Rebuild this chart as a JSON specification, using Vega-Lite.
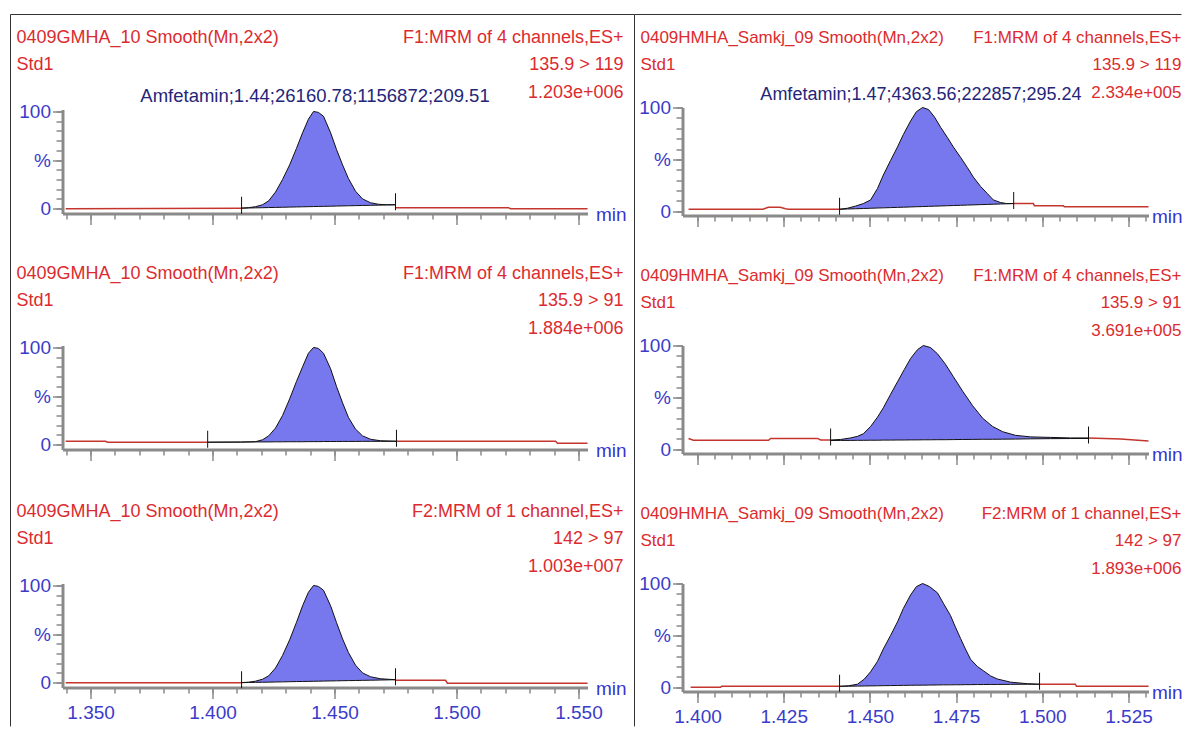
{
"$schema": "https://vega.github.io/schema/vega-lite/v6.json",
"background": "white",
"padding": {"left": 9.5, "top": 13.5, "right": 0, "bottom": 0},
"autosize": {"type": "pad"},
"bounds": "flush",
"center": true,
"columns": 2,
"spacing": {"row": 130, "column": 95},
"datasets": {
"tr": [
{"p":"L1","s":"a","t":1.3398,"y":0},{"p":"L1","s":"a","t":1.4119,"y":0.5},
{"p":"L1","s":"k","t":1.4119,"y":0.5,"b":0.5},{"p":"L1","s":"k","t":1.4148,"y":1,"b":0.66},{"p":"L1","s":"k","t":1.4176,"y":2,"b":0.82},{"p":"L1","s":"k","t":1.4205,"y":4,"b":0.98},{"p":"L1","s":"k","t":1.423,"y":8,"b":1.12},{"p":"L1","s":"k","t":1.4258,"y":17,"b":1.27},{"p":"L1","s":"k","t":1.4287,"y":30,"b":1.43},{"p":"L1","s":"k","t":1.4316,"y":45,"b":1.59},{"p":"L1","s":"k","t":1.4344,"y":62,"b":1.75},{"p":"L1","s":"k","t":1.4369,"y":78,"b":1.89},{"p":"L1","s":"k","t":1.4393,"y":92,"b":2.02},{"p":"L1","s":"k","t":1.4414,"y":100,"b":2.14},{"p":"L1","s":"k","t":1.4434,"y":99,"b":2.25},{"p":"L1","s":"k","t":1.4455,"y":95,"b":2.36},{"p":"L1","s":"k","t":1.4484,"y":78,"b":2.52},{"p":"L1","s":"k","t":1.4508,"y":61,"b":2.66},{"p":"L1","s":"k","t":1.4533,"y":45,"b":2.8},{"p":"L1","s":"k","t":1.4557,"y":31,"b":2.93},{"p":"L1","s":"k","t":1.4586,"y":18,"b":3.09},{"p":"L1","s":"k","t":1.4615,"y":10,"b":3.25},{"p":"L1","s":"k","t":1.4648,"y":6,"b":3.43},{"p":"L1","s":"k","t":1.468,"y":4.5,"b":3.61},{"p":"L1","s":"k","t":1.4713,"y":4,"b":3.79},{"p":"L1","s":"k","t":1.475,"y":4,"b":4},
{"p":"L1","s":"c","t":1.475,"y":1},{"p":"L1","s":"c","t":1.5213,"y":1},{"p":"L1","s":"c","t":1.5221,"y":0},{"p":"L1","s":"c","t":1.5537,"y":0},

{"p":"L2","s":"a","t":1.3398,"y":3.5},{"p":"L2","s":"a","t":1.3561,"y":3.5},{"p":"L2","s":"a","t":1.357,"y":2.5},{"p":"L2","s":"a","t":1.398,"y":2.5},
{"p":"L2","s":"k","t":1.398,"y":2.5,"b":2.5},{"p":"L2","s":"k","t":1.4115,"y":2.6,"b":2.7},{"p":"L2","s":"k","t":1.4176,"y":3,"b":2.8},{"p":"L2","s":"k","t":1.4205,"y":5,"b":2.8},{"p":"L2","s":"k","t":1.423,"y":9,"b":2.8},{"p":"L2","s":"k","t":1.4258,"y":17,"b":2.9},{"p":"L2","s":"k","t":1.4287,"y":30,"b":2.9},{"p":"L2","s":"k","t":1.4316,"y":47,"b":3},{"p":"L2","s":"k","t":1.4344,"y":65,"b":3},{"p":"L2","s":"k","t":1.4369,"y":80,"b":3},{"p":"L2","s":"k","t":1.4393,"y":94,"b":3.1},{"p":"L2","s":"k","t":1.4414,"y":100,"b":3.1},{"p":"L2","s":"k","t":1.4434,"y":99,"b":3.1},{"p":"L2","s":"k","t":1.4455,"y":94,"b":3.2},{"p":"L2","s":"k","t":1.4484,"y":78,"b":3.2},{"p":"L2","s":"k","t":1.4508,"y":60,"b":3.2},{"p":"L2","s":"k","t":1.4533,"y":43,"b":3.3},{"p":"L2","s":"k","t":1.4557,"y":28,"b":3.3},{"p":"L2","s":"k","t":1.4586,"y":16,"b":3.3},{"p":"L2","s":"k","t":1.4615,"y":9,"b":3.4},{"p":"L2","s":"k","t":1.4648,"y":5.5,"b":3.4},{"p":"L2","s":"k","t":1.4689,"y":4,"b":3.4},{"p":"L2","s":"k","t":1.4754,"y":3.5,"b":3.5},
{"p":"L2","s":"c","t":1.4754,"y":3.5},{"p":"L2","s":"c","t":1.5406,"y":3.5},{"p":"L2","s":"c","t":1.5414,"y":1.5},{"p":"L2","s":"c","t":1.5537,"y":1.5},

{"p":"L3","s":"a","t":1.3398,"y":0},{"p":"L3","s":"a","t":1.4119,"y":0},
{"p":"L3","s":"k","t":1.4119,"y":0,"b":0},{"p":"L3","s":"k","t":1.4148,"y":0.5,"b":0.15},{"p":"L3","s":"k","t":1.4176,"y":1.5,"b":0.3},{"p":"L3","s":"k","t":1.4205,"y":3.5,"b":0.4},{"p":"L3","s":"k","t":1.423,"y":7,"b":0.5},{"p":"L3","s":"k","t":1.4258,"y":15,"b":0.65},{"p":"L3","s":"k","t":1.4287,"y":28,"b":0.8},{"p":"L3","s":"k","t":1.4316,"y":44,"b":0.95},{"p":"L3","s":"k","t":1.4344,"y":62,"b":1.1},{"p":"L3","s":"k","t":1.4369,"y":79,"b":1.2},{"p":"L3","s":"k","t":1.4393,"y":93,"b":1.3},{"p":"L3","s":"k","t":1.4414,"y":100,"b":1.4},{"p":"L3","s":"k","t":1.4434,"y":99,"b":1.5},{"p":"L3","s":"k","t":1.4455,"y":95,"b":1.6},{"p":"L3","s":"k","t":1.4484,"y":79,"b":1.75},{"p":"L3","s":"k","t":1.4508,"y":62,"b":1.85},{"p":"L3","s":"k","t":1.4533,"y":45,"b":2},{"p":"L3","s":"k","t":1.4557,"y":31,"b":2.1},{"p":"L3","s":"k","t":1.4586,"y":18,"b":2.2},{"p":"L3","s":"k","t":1.4615,"y":10,"b":2.35},{"p":"L3","s":"k","t":1.4648,"y":6,"b":2.5},{"p":"L3","s":"k","t":1.4689,"y":4,"b":2.7},{"p":"L3","s":"k","t":1.475,"y":3,"b":3},
{"p":"L3","s":"c","t":1.475,"y":2.5},{"p":"L3","s":"c","t":1.4955,"y":2.5},{"p":"L3","s":"c","t":1.4963,"y":-0.5},{"p":"L3","s":"c","t":1.5537,"y":-0.5},

{"p":"R1","s":"a","t":1.3974,"y":2},{"p":"R1","s":"a","t":1.419,"y":2},{"p":"R1","s":"a","t":1.4205,"y":4},{"p":"R1","s":"a","t":1.424,"y":4},{"p":"R1","s":"a","t":1.4255,"y":2.5},{"p":"R1","s":"a","t":1.4265,"y":2},{"p":"R1","s":"a","t":1.4412,"y":2},
{"p":"R1","s":"k","t":1.4412,"y":2,"b":2},{"p":"R1","s":"k","t":1.4435,"y":3,"b":2.25},{"p":"R1","s":"k","t":1.4458,"y":5,"b":2.5},{"p":"R1","s":"k","t":1.4481,"y":7.5,"b":2.75},{"p":"R1","s":"k","t":1.4502,"y":11,"b":2.97},{"p":"R1","s":"k","t":1.4522,"y":22,"b":3.2},{"p":"R1","s":"k","t":1.4539,"y":35,"b":3.38},{"p":"R1","s":"k","t":1.456,"y":49,"b":3.6},{"p":"R1","s":"k","t":1.458,"y":62,"b":3.83},{"p":"R1","s":"k","t":1.4597,"y":74,"b":4},{"p":"R1","s":"k","t":1.4618,"y":87,"b":4.24},{"p":"R1","s":"k","t":1.4635,"y":96,"b":4.43},{"p":"R1","s":"k","t":1.4653,"y":100,"b":4.62},{"p":"R1","s":"k","t":1.467,"y":98,"b":4.81},{"p":"R1","s":"k","t":1.4687,"y":91,"b":5},{"p":"R1","s":"k","t":1.4705,"y":81,"b":5.19},{"p":"R1","s":"k","t":1.4725,"y":71,"b":5.4},{"p":"R1","s":"k","t":1.4742,"y":62,"b":5.6},{"p":"R1","s":"k","t":1.4763,"y":52,"b":5.83},{"p":"R1","s":"k","t":1.4783,"y":42,"b":6.05},{"p":"R1","s":"k","t":1.48,"y":33,"b":6.23},{"p":"R1","s":"k","t":1.4821,"y":24,"b":6.46},{"p":"R1","s":"k","t":1.4841,"y":17,"b":6.68},{"p":"R1","s":"k","t":1.4858,"y":11,"b":6.86},{"p":"R1","s":"k","t":1.4879,"y":8.5,"b":7.1},{"p":"R1","s":"k","t":1.4896,"y":7.5,"b":7.28},{"p":"R1","s":"k","t":1.4917,"y":7.5,"b":7.5},
{"p":"R1","s":"c","t":1.4917,"y":7.5},{"p":"R1","s":"c","t":1.4974,"y":7.5},{"p":"R1","s":"c","t":1.4977,"y":5.5},{"p":"R1","s":"c","t":1.5061,"y":5.5},{"p":"R1","s":"c","t":1.5064,"y":4.5},{"p":"R1","s":"c","t":1.5308,"y":4.5},

{"p":"R2","s":"a","t":1.3974,"y":10.5},{"p":"R2","s":"a","t":1.3988,"y":8.7},{"p":"R2","s":"a","t":1.4206,"y":8.7},{"p":"R2","s":"a","t":1.4212,"y":10.5},{"p":"R2","s":"a","t":1.4348,"y":10.5},{"p":"R2","s":"a","t":1.4357,"y":9},{"p":"R2","s":"a","t":1.4386,"y":9},
{"p":"R2","s":"k","t":1.4386,"y":9,"b":8.5},{"p":"R2","s":"k","t":1.4415,"y":9.5,"b":8.6},{"p":"R2","s":"k","t":1.4444,"y":11,"b":8.6},{"p":"R2","s":"k","t":1.4464,"y":12.5,"b":8.7},{"p":"R2","s":"k","t":1.4481,"y":15,"b":8.7},{"p":"R2","s":"k","t":1.4502,"y":22,"b":8.8},{"p":"R2","s":"k","t":1.4522,"y":31,"b":8.8},{"p":"R2","s":"k","t":1.4539,"y":40,"b":8.9},{"p":"R2","s":"k","t":1.456,"y":53,"b":8.9},{"p":"R2","s":"k","t":1.458,"y":65,"b":9},{"p":"R2","s":"k","t":1.46,"y":77,"b":9},{"p":"R2","s":"k","t":1.4618,"y":87.5,"b":9.1},{"p":"R2","s":"k","t":1.4638,"y":96,"b":9.1},{"p":"R2","s":"k","t":1.4655,"y":100,"b":9.2},{"p":"R2","s":"k","t":1.4676,"y":98,"b":9.2},{"p":"R2","s":"k","t":1.4696,"y":92,"b":9.3},{"p":"R2","s":"k","t":1.4719,"y":82,"b":9.3},{"p":"R2","s":"k","t":1.4742,"y":70,"b":9.4},{"p":"R2","s":"k","t":1.4769,"y":56,"b":9.5},{"p":"R2","s":"k","t":1.4798,"y":42,"b":9.6},{"p":"R2","s":"k","t":1.4827,"y":30,"b":9.7},{"p":"R2","s":"k","t":1.4856,"y":22,"b":9.7},{"p":"R2","s":"k","t":1.4885,"y":17,"b":9.8},{"p":"R2","s":"k","t":1.4922,"y":13.5,"b":9.9},{"p":"R2","s":"k","t":1.4966,"y":12,"b":10.1},{"p":"R2","s":"k","t":1.5024,"y":11.5,"b":10.3},{"p":"R2","s":"k","t":1.5082,"y":11,"b":10.4},{"p":"R2","s":"k","t":1.5134,"y":11,"b":10.5},
{"p":"R2","s":"c","t":1.5134,"y":11},{"p":"R2","s":"c","t":1.5227,"y":10},{"p":"R2","s":"c","t":1.5308,"y":8},

{"p":"R3","s":"a","t":1.398,"y":0},{"p":"R3","s":"a","t":1.4067,"y":0},{"p":"R3","s":"a","t":1.407,"y":1},{"p":"R3","s":"a","t":1.4412,"y":1},
{"p":"R3","s":"k","t":1.4412,"y":1,"b":1},{"p":"R3","s":"k","t":1.4438,"y":1.5,"b":1.1},{"p":"R3","s":"k","t":1.4464,"y":3,"b":1.2},{"p":"R3","s":"k","t":1.4484,"y":8,"b":1.3},{"p":"R3","s":"k","t":1.4502,"y":15,"b":1.4},{"p":"R3","s":"k","t":1.4522,"y":25,"b":1.5},{"p":"R3","s":"k","t":1.4539,"y":37,"b":1.6},{"p":"R3","s":"k","t":1.456,"y":50,"b":1.7},{"p":"R3","s":"k","t":1.458,"y":63,"b":1.8},{"p":"R3","s":"k","t":1.4597,"y":76,"b":1.9},{"p":"R3","s":"k","t":1.4618,"y":89,"b":2},{"p":"R3","s":"k","t":1.4635,"y":97,"b":2.1},{"p":"R3","s":"k","t":1.4653,"y":100,"b":2.1},{"p":"R3","s":"k","t":1.4673,"y":97,"b":2.2},{"p":"R3","s":"k","t":1.4696,"y":91,"b":2.3},{"p":"R3","s":"k","t":1.4713,"y":81,"b":2.4},{"p":"R3","s":"k","t":1.4734,"y":69,"b":2.4},{"p":"R3","s":"k","t":1.4748,"y":58,"b":2.5},{"p":"R3","s":"k","t":1.4763,"y":47,"b":2.5},{"p":"R3","s":"k","t":1.4777,"y":37,"b":2.6},{"p":"R3","s":"k","t":1.4792,"y":27,"b":2.6},{"p":"R3","s":"k","t":1.4812,"y":20,"b":2.7},{"p":"R3","s":"k","t":1.4829,"y":16,"b":2.7},{"p":"R3","s":"k","t":1.485,"y":11,"b":2.8},{"p":"R3","s":"k","t":1.487,"y":8,"b":2.8},{"p":"R3","s":"k","t":1.4908,"y":5,"b":2.9},{"p":"R3","s":"k","t":1.4957,"y":3.5,"b":3},{"p":"R3","s":"k","t":1.4992,"y":3,"b":3},
{"p":"R3","s":"c","t":1.4992,"y":3},{"p":"R3","s":"c","t":1.5096,"y":3},{"p":"R3","s":"c","t":1.5099,"y":1},{"p":"R3","s":"c","t":1.5308,"y":1}
],
"mk": [
{"p":"L1","t":1.4119,"y":0.5},{"p":"L1","t":1.475,"y":4},
{"p":"L2","t":1.398,"y":2.5},{"p":"L2","t":1.4754,"y":3.5},
{"p":"L3","t":1.4119,"y":0},{"p":"L3","t":1.475,"y":3},
{"p":"R1","t":1.4412,"y":2},{"p":"R1","t":1.4917,"y":7.5},
{"p":"R2","t":1.4386,"y":9},{"p":"R2","t":1.5134,"y":11},
{"p":"R3","t":1.4412,"y":1},{"p":"R3","t":1.4992,"y":3}
],
"tx": [
{"p":"L1","hdr":"0409GMHA_10 Smooth(Mn,2x2)\n\u00a0Std1","info":"F1:MRM of 4 channels,ES+\n135.9 > 119\n1.203e+006","ann":"Amfetamin;1.44;26160.78;1156872;209.51"},
{"p":"L2","hdr":"0409GMHA_10 Smooth(Mn,2x2)\n\u00a0Std1","info":"F1:MRM of 4 channels,ES+\n135.9 > 91\n1.884e+006","ann":""},
{"p":"L3","hdr":"0409GMHA_10 Smooth(Mn,2x2)\n\u00a0Std1","info":"F2:MRM of 1 channel,ES+\n142 > 97\n1.003e+007","ann":""},
{"p":"R1","hdr":"0409HMHA_Samkj_09 Smooth(Mn,2x2)\n\u00a0Std1","info":"F1:MRM of 4 channels,ES+\n135.9 > 119\n2.334e+005","ann":"Amfetamin;1.47;4363.56;222857;295.24"},
{"p":"R2","hdr":"0409HMHA_Samkj_09 Smooth(Mn,2x2)\n\u00a0Std1","info":"F1:MRM of 4 channels,ES+\n135.9 > 91\n3.691e+005","ann":""},
{"p":"R3","hdr":"0409HMHA_Samkj_09 Smooth(Mn,2x2)\n\u00a0Std1","info":"F2:MRM of 1 channel,ES+\n142 > 97\n1.893e+006","ann":""}
]
},
"concat": [
{
"width": 525, "height": 104,
"resolve": {"axis": {"x": "independent", "y": "independent"}},
"layer": [
{"data": {"name": "tr"}, "transform": [{"filter": "datum.p=='L1' && datum.s!='k'"}],
 "mark": {"type": "line", "color": "#c4352e", "strokeWidth": 1.5},
 "encoding": {
  "x": {"field": "t", "type": "quantitative", "scale": {"domain": [1.3385, 1.5537], "nice": false, "zero": false},
   "axis": {"orient": "bottom", "values": [1.35,1.4,1.45,1.5,1.55], "labels": false, "tickSize": 11, "title": "min", "titleX": 533, "titleY": 1, "titleAlign": "left", "titleBaseline": "middle", "titleAngle": 0}},
  "y": {"field": "y", "type": "quantitative", "scale": {"domain": [-5, 102], "nice": false, "zero": false},
   "axis": {"orient": "left", "values": [0,50,100], "tickSize": 10, "labelExpr": "datum.value==50?'%':datum.label", "labelPadding": 2, "title": null}},
  "detail": {"field": "s"}}},
{"data": {"name": "tr"}, "transform": [{"filter": "datum.p=='L1' && datum.s=='k'"}], "mark": {"type": "area", "color": "#7878ee", "opacity": 1},
 "encoding": {
  "x": {"field": "t", "type": "quantitative", "axis": {"orient": "bottom", "values": [1.34,1.35,1.36,1.37,1.38,1.39,1.4,1.41,1.42,1.43,1.44,1.45,1.46,1.47,1.48,1.49,1.5,1.51,1.52,1.53,1.54,1.55], "tickSize": 5.5, "labels": false, "domain": false, "title": null}},
  "y": {"field": "y", "type": "quantitative", "axis": {"orient": "left", "values": [0,10,20,30,40,50,60,70,80,90,100], "tickSize": 6.5, "labels": false, "domain": false, "title": null}},
  "y2": {"field": "b"}}},
{"data": {"name": "tr"}, "transform": [{"filter": "datum.p=='L1' && datum.s=='k'"}], "mark": {"type": "line", "color": "#111111", "strokeWidth": 1},
 "encoding": {"x": {"field": "t", "type": "quantitative", "axis": null}, "y": {"field": "y", "type": "quantitative", "axis": null}}},
{"data": {"name": "tr"}, "transform": [{"filter": "datum.p=='L1' && datum.s=='k'"}], "mark": {"type": "line", "color": "#111111", "strokeWidth": 1},
 "encoding": {"x": {"field": "t", "type": "quantitative", "axis": null}, "y": {"field": "b", "type": "quantitative", "axis": null}}},
{"data": {"name": "mk"}, "transform": [{"filter": "datum.p=='L1'"}], "mark": {"type": "tick", "orient": "vertical", "size": 17, "thickness": 1, "color": "#111111", "yOffset": -3, "opacity": 1},
 "encoding": {"x": {"field": "t", "type": "quantitative", "axis": null}, "y": {"field": "y", "type": "quantitative", "axis": null}}},
{"data": {"values": [{}]}, "mark": {"type": "rule", "color": "#333333", "strokeWidth": 1}, "encoding": {"x": {"datum": 1.317185, "axis": null}, "y": {"datum": -45.13, "axis": null}, "y2": {"datum": 199.74}}},
{"data": {"values": [{}]}, "mark": {"type": "rule", "color": "#333333", "strokeWidth": 1}, "encoding": {"x": {"datum": 1.57297, "axis": null}, "y": {"datum": -45.13, "axis": null}, "y2": {"datum": 199.74}}},
{"data": {"values": [{}]}, "mark": {"type": "rule", "color": "#333333", "strokeWidth": 1}, "encoding": {"x": {"datum": 1.317185, "axis": null}, "x2": {"datum": 1.57297}, "y": {"datum": 199.74, "axis": null}}},
{"data": {"name": "tx"}, "transform": [{"filter": "datum.p=='L1'"}], "mark": {"type": "text", "align": "left", "baseline": "alphabetic", "lineBreak": "\n", "lineHeight": 27.5, "fontSize": 18, "color": "#dc2b2f"},
 "encoding": {"x": {"datum": 1.31965, "axis": null}, "y": {"datum": 170.93, "axis": null}, "text": {"field": "hdr"}}},
{"data": {"name": "tx"}, "transform": [{"filter": "datum.p=='L1'"}], "mark": {"type": "text", "align": "right", "baseline": "alphabetic", "lineBreak": "\n", "lineHeight": 27.5, "fontSize": 18, "color": "#dc2b2f"},
 "encoding": {"x": {"datum": 1.56846, "axis": null}, "y": {"datum": 170.93, "axis": null}, "text": {"field": "info"}}},
{"data": {"name": "tx"}, "transform": [{"filter": "datum.p=='L1'"}], "mark": {"type": "text", "align": "center", "baseline": "alphabetic", "fontSize": 18.5, "color": "#25257a"},
 "encoding": {"x": {"datum": 1.442, "axis": null}, "y": {"datum": 109.5, "axis": null}, "text": {"field": "ann"}}}
]
},
{
"width": 466, "height": 108,
"resolve": {"axis": {"x": "independent", "y": "independent"}},
"layer": [
{"data": {"name": "tr"}, "transform": [{"filter": "datum.p=='R1' && datum.s!='k'"}],
 "mark": {"type": "line", "color": "#c4352e", "strokeWidth": 1.5},
 "encoding": {
  "x": {"field": "t", "type": "quantitative", "scale": {"domain": [1.39565, 1.5308], "nice": false, "zero": false},
   "axis": {"orient": "bottom", "values": [1.4,1.425,1.45,1.475,1.5,1.525], "labels": false, "tickSize": 11, "title": "min", "titleX": 469, "titleY": 1, "titleAlign": "left", "titleBaseline": "middle", "titleAngle": 0}},
  "y": {"field": "y", "type": "quantitative", "scale": {"domain": [-4, 100], "nice": false, "zero": false},
   "axis": {"orient": "left", "values": [0,50,100], "tickSize": 10, "labelExpr": "datum.value==50?'%':datum.label", "labelPadding": 2, "title": null}},
  "detail": {"field": "s"}}},
{"data": {"name": "tr"}, "transform": [{"filter": "datum.p=='R1' && datum.s=='k'"}], "mark": {"type": "area", "color": "#7878ee", "opacity": 1},
 "encoding": {
  "x": {"field": "t", "type": "quantitative", "axis": {"orient": "bottom", "values": [1.4,1.405,1.41,1.415,1.42,1.425,1.43,1.435,1.44,1.445,1.45,1.455,1.46,1.465,1.47,1.475,1.48,1.485,1.49,1.495,1.5,1.505,1.51,1.515,1.52,1.525,1.53], "tickSize": 5.5, "labels": false, "domain": false, "title": null}},
  "y": {"field": "y", "type": "quantitative", "axis": {"orient": "left", "values": [0,10,20,30,40,50,60,70,80,90,100], "tickSize": 6.5, "labels": false, "domain": false, "title": null}},
  "y2": {"field": "b"}}},
{"data": {"name": "tr"}, "transform": [{"filter": "datum.p=='R1' && datum.s=='k'"}], "mark": {"type": "line", "color": "#111111", "strokeWidth": 1},
 "encoding": {"x": {"field": "t", "type": "quantitative", "axis": null}, "y": {"field": "y", "type": "quantitative", "axis": null}}},
{"data": {"name": "tr"}, "transform": [{"filter": "datum.p=='R1' && datum.s=='k'"}], "mark": {"type": "line", "color": "#111111", "strokeWidth": 1},
 "encoding": {"x": {"field": "t", "type": "quantitative", "axis": null}, "y": {"field": "b", "type": "quantitative", "axis": null}}},
{"data": {"name": "mk"}, "transform": [{"filter": "datum.p=='R1'"}], "mark": {"type": "tick", "orient": "vertical", "size": 17, "thickness": 1, "color": "#111111", "yOffset": -3, "opacity": 1},
 "encoding": {"x": {"field": "t", "type": "quantitative", "axis": null}, "y": {"field": "y", "type": "quantitative", "axis": null}}},
{"data": {"values": [{}]}, "mark": {"type": "rule", "color": "#333333", "strokeWidth": 1}, "encoding": {"x": {"datum": 1.38173, "axis": null}, "x2": {"datum": 1.54037}, "y": {"datum": 189.56, "axis": null}}},
{"data": {"name": "tx"}, "transform": [{"filter": "datum.p=='R1'"}], "mark": {"type": "text", "align": "left", "baseline": "alphabetic", "lineBreak": "\n", "lineHeight": 27.5, "fontSize": 17, "color": "#dc2b2f"},
 "encoding": {"x": {"datum": 1.38347, "axis": null}, "y": {"datum": 162.59, "axis": null}, "text": {"field": "hdr"}}},
{"data": {"name": "tx"}, "transform": [{"filter": "datum.p=='R1'"}], "mark": {"type": "text", "align": "right", "baseline": "alphabetic", "lineBreak": "\n", "lineHeight": 27.5, "fontSize": 17, "color": "#dc2b2f"},
 "encoding": {"x": {"datum": 1.54037, "axis": null}, "y": {"datum": 162.59, "axis": null}, "text": {"field": "info"}}},
{"data": {"name": "tx"}, "transform": [{"filter": "datum.p=='R1'"}], "mark": {"type": "text", "align": "center", "baseline": "alphabetic", "fontSize": 18, "color": "#25257a"},
 "encoding": {"x": {"datum": 1.46482, "axis": null}, "y": {"datum": 107.7, "axis": null}, "text": {"field": "ann"}}}
]
},
{
"width": 525, "height": 104,
"resolve": {"axis": {"x": "independent", "y": "independent"}},
"layer": [
{"data": {"name": "tr"}, "transform": [{"filter": "datum.p=='L2' && datum.s!='k'"}],
 "mark": {"type": "line", "color": "#c4352e", "strokeWidth": 1.5},
 "encoding": {
  "x": {"field": "t", "type": "quantitative", "scale": {"domain": [1.3385, 1.5537], "nice": false, "zero": false},
   "axis": {"orient": "bottom", "values": [1.35,1.4,1.45,1.5,1.55], "labels": false, "tickSize": 11, "title": "min", "titleX": 533, "titleY": 1, "titleAlign": "left", "titleBaseline": "middle", "titleAngle": 0}},
  "y": {"field": "y", "type": "quantitative", "scale": {"domain": [-5, 102], "nice": false, "zero": false},
   "axis": {"orient": "left", "values": [0,50,100], "tickSize": 10, "labelExpr": "datum.value==50?'%':datum.label", "labelPadding": 2, "title": null}},
  "detail": {"field": "s"}}},
{"data": {"name": "tr"}, "transform": [{"filter": "datum.p=='L2' && datum.s=='k'"}], "mark": {"type": "area", "color": "#7878ee", "opacity": 1},
 "encoding": {
  "x": {"field": "t", "type": "quantitative", "axis": {"orient": "bottom", "values": [1.34,1.35,1.36,1.37,1.38,1.39,1.4,1.41,1.42,1.43,1.44,1.45,1.46,1.47,1.48,1.49,1.5,1.51,1.52,1.53,1.54,1.55], "tickSize": 5.5, "labels": false, "domain": false, "title": null}},
  "y": {"field": "y", "type": "quantitative", "axis": {"orient": "left", "values": [0,10,20,30,40,50,60,70,80,90,100], "tickSize": 6.5, "labels": false, "domain": false, "title": null}},
  "y2": {"field": "b"}}},
{"data": {"name": "tr"}, "transform": [{"filter": "datum.p=='L2' && datum.s=='k'"}], "mark": {"type": "line", "color": "#111111", "strokeWidth": 1},
 "encoding": {"x": {"field": "t", "type": "quantitative", "axis": null}, "y": {"field": "y", "type": "quantitative", "axis": null}}},
{"data": {"name": "tr"}, "transform": [{"filter": "datum.p=='L2' && datum.s=='k'"}], "mark": {"type": "line", "color": "#111111", "strokeWidth": 1},
 "encoding": {"x": {"field": "t", "type": "quantitative", "axis": null}, "y": {"field": "b", "type": "quantitative", "axis": null}}},
{"data": {"name": "mk"}, "transform": [{"filter": "datum.p=='L2'"}], "mark": {"type": "tick", "orient": "vertical", "size": 17, "thickness": 1, "color": "#111111", "yOffset": -3, "opacity": 1},
 "encoding": {"x": {"field": "t", "type": "quantitative", "axis": null}, "y": {"field": "y", "type": "quantitative", "axis": null}}},
{"data": {"values": [{}]}, "mark": {"type": "rule", "color": "#333333", "strokeWidth": 1}, "encoding": {"x": {"datum": 1.317185, "axis": null}, "y": {"datum": -45.13, "axis": null}, "y2": {"datum": 210}}},
{"data": {"values": [{}]}, "mark": {"type": "rule", "color": "#333333", "strokeWidth": 1}, "encoding": {"x": {"datum": 1.57297, "axis": null}, "y": {"datum": -45.13, "axis": null}, "y2": {"datum": 210}}},
{"data": {"name": "tx"}, "transform": [{"filter": "datum.p=='L2'"}], "mark": {"type": "text", "align": "left", "baseline": "alphabetic", "lineBreak": "\n", "lineHeight": 27.5, "fontSize": 18, "color": "#dc2b2f"},
 "encoding": {"x": {"datum": 1.31965, "axis": null}, "y": {"datum": 170.93, "axis": null}, "text": {"field": "hdr"}}},
{"data": {"name": "tx"}, "transform": [{"filter": "datum.p=='L2'"}], "mark": {"type": "text", "align": "right", "baseline": "alphabetic", "lineBreak": "\n", "lineHeight": 27.5, "fontSize": 18, "color": "#dc2b2f"},
 "encoding": {"x": {"datum": 1.56846, "axis": null}, "y": {"datum": 170.93, "axis": null}, "text": {"field": "info"}}}
]
},
{
"width": 466, "height": 108,
"resolve": {"axis": {"x": "independent", "y": "independent"}},
"layer": [
{"data": {"name": "tr"}, "transform": [{"filter": "datum.p=='R2' && datum.s!='k'"}],
 "mark": {"type": "line", "color": "#c4352e", "strokeWidth": 1.5},
 "encoding": {
  "x": {"field": "t", "type": "quantitative", "scale": {"domain": [1.39565, 1.5308], "nice": false, "zero": false},
   "axis": {"orient": "bottom", "values": [1.4,1.425,1.45,1.475,1.5,1.525], "labels": false, "tickSize": 11, "title": "min", "titleX": 469, "titleY": 1, "titleAlign": "left", "titleBaseline": "middle", "titleAngle": 0}},
  "y": {"field": "y", "type": "quantitative", "scale": {"domain": [-4, 100], "nice": false, "zero": false},
   "axis": {"orient": "left", "values": [0,50,100], "tickSize": 10, "labelExpr": "datum.value==50?'%':datum.label", "labelPadding": 2, "title": null}},
  "detail": {"field": "s"}}},
{"data": {"name": "tr"}, "transform": [{"filter": "datum.p=='R2' && datum.s=='k'"}], "mark": {"type": "area", "color": "#7878ee", "opacity": 1},
 "encoding": {
  "x": {"field": "t", "type": "quantitative", "axis": {"orient": "bottom", "values": [1.4,1.405,1.41,1.415,1.42,1.425,1.43,1.435,1.44,1.445,1.45,1.455,1.46,1.465,1.47,1.475,1.48,1.485,1.49,1.495,1.5,1.505,1.51,1.515,1.52,1.525,1.53], "tickSize": 5.5, "labels": false, "domain": false, "title": null}},
  "y": {"field": "y", "type": "quantitative", "axis": {"orient": "left", "values": [0,10,20,30,40,50,60,70,80,90,100], "tickSize": 6.5, "labels": false, "domain": false, "title": null}},
  "y2": {"field": "b"}}},
{"data": {"name": "tr"}, "transform": [{"filter": "datum.p=='R2' && datum.s=='k'"}], "mark": {"type": "line", "color": "#111111", "strokeWidth": 1},
 "encoding": {"x": {"field": "t", "type": "quantitative", "axis": null}, "y": {"field": "y", "type": "quantitative", "axis": null}}},
{"data": {"name": "tr"}, "transform": [{"filter": "datum.p=='R2' && datum.s=='k'"}], "mark": {"type": "line", "color": "#111111", "strokeWidth": 1},
 "encoding": {"x": {"field": "t", "type": "quantitative", "axis": null}, "y": {"field": "b", "type": "quantitative", "axis": null}}},
{"data": {"name": "mk"}, "transform": [{"filter": "datum.p=='R2'"}], "mark": {"type": "tick", "orient": "vertical", "size": 17, "thickness": 1, "color": "#111111", "yOffset": -3, "opacity": 1},
 "encoding": {"x": {"field": "t", "type": "quantitative", "axis": null}, "y": {"field": "y", "type": "quantitative", "axis": null}}},
{"data": {"name": "tx"}, "transform": [{"filter": "datum.p=='R2'"}], "mark": {"type": "text", "align": "left", "baseline": "alphabetic", "lineBreak": "\n", "lineHeight": 27.5, "fontSize": 17, "color": "#dc2b2f"},
 "encoding": {"x": {"datum": 1.38347, "axis": null}, "y": {"datum": 162.59, "axis": null}, "text": {"field": "hdr"}}},
{"data": {"name": "tx"}, "transform": [{"filter": "datum.p=='R2'"}], "mark": {"type": "text", "align": "right", "baseline": "alphabetic", "lineBreak": "\n", "lineHeight": 27.5, "fontSize": 17, "color": "#dc2b2f"},
 "encoding": {"x": {"datum": 1.54037, "axis": null}, "y": {"datum": 162.59, "axis": null}, "text": {"field": "info"}}}
]
},
{
"width": 525, "height": 104,
"resolve": {"axis": {"x": "independent", "y": "independent"}},
"layer": [
{"data": {"name": "tr"}, "transform": [{"filter": "datum.p=='L3' && datum.s!='k'"}],
 "mark": {"type": "line", "color": "#c4352e", "strokeWidth": 1.5},
 "encoding": {
  "x": {"field": "t", "type": "quantitative", "scale": {"domain": [1.3385, 1.5537], "nice": false, "zero": false},
   "axis": {"orient": "bottom", "values": [1.35,1.4,1.45,1.5,1.55], "labels": true, "format": ".3f", "labelPadding": 5, "tickSize": 11, "title": "min", "titleX": 533, "titleY": 1, "titleAlign": "left", "titleBaseline": "middle", "titleAngle": 0}},
  "y": {"field": "y", "type": "quantitative", "scale": {"domain": [-5, 102], "nice": false, "zero": false},
   "axis": {"orient": "left", "values": [0,50,100], "tickSize": 10, "labelExpr": "datum.value==50?'%':datum.label", "labelPadding": 2, "title": null}},
  "detail": {"field": "s"}}},
{"data": {"name": "tr"}, "transform": [{"filter": "datum.p=='L3' && datum.s=='k'"}], "mark": {"type": "area", "color": "#7878ee", "opacity": 1},
 "encoding": {
  "x": {"field": "t", "type": "quantitative", "axis": {"orient": "bottom", "values": [1.34,1.35,1.36,1.37,1.38,1.39,1.4,1.41,1.42,1.43,1.44,1.45,1.46,1.47,1.48,1.49,1.5,1.51,1.52,1.53,1.54,1.55], "tickSize": 5.5, "labels": false, "domain": false, "title": null}},
  "y": {"field": "y", "type": "quantitative", "axis": {"orient": "left", "values": [0,10,20,30,40,50,60,70,80,90,100], "tickSize": 6.5, "labels": false, "domain": false, "title": null}},
  "y2": {"field": "b"}}},
{"data": {"name": "tr"}, "transform": [{"filter": "datum.p=='L3' && datum.s=='k'"}], "mark": {"type": "line", "color": "#111111", "strokeWidth": 1},
 "encoding": {"x": {"field": "t", "type": "quantitative", "axis": null}, "y": {"field": "y", "type": "quantitative", "axis": null}}},
{"data": {"name": "tr"}, "transform": [{"filter": "datum.p=='L3' && datum.s=='k'"}], "mark": {"type": "line", "color": "#111111", "strokeWidth": 1},
 "encoding": {"x": {"field": "t", "type": "quantitative", "axis": null}, "y": {"field": "b", "type": "quantitative", "axis": null}}},
{"data": {"name": "mk"}, "transform": [{"filter": "datum.p=='L3'"}], "mark": {"type": "tick", "orient": "vertical", "size": 17, "thickness": 1, "color": "#111111", "yOffset": -3, "opacity": 1},
 "encoding": {"x": {"field": "t", "type": "quantitative", "axis": null}, "y": {"field": "y", "type": "quantitative", "axis": null}}},
{"data": {"values": [{}]}, "mark": {"type": "rule", "color": "#333333", "strokeWidth": 1}, "encoding": {"x": {"datum": 1.317185, "axis": null}, "y": {"datum": -45, "axis": null}, "y2": {"datum": 210}}},
{"data": {"values": [{}]}, "mark": {"type": "rule", "color": "#333333", "strokeWidth": 1}, "encoding": {"x": {"datum": 1.57297, "axis": null}, "y": {"datum": -45, "axis": null}, "y2": {"datum": 210}}},
{"data": {"name": "tx"}, "transform": [{"filter": "datum.p=='L3'"}], "mark": {"type": "text", "align": "left", "baseline": "alphabetic", "lineBreak": "\n", "lineHeight": 27.5, "fontSize": 18, "color": "#dc2b2f"},
 "encoding": {"x": {"datum": 1.31965, "axis": null}, "y": {"datum": 170.93, "axis": null}, "text": {"field": "hdr"}}},
{"data": {"name": "tx"}, "transform": [{"filter": "datum.p=='L3'"}], "mark": {"type": "text", "align": "right", "baseline": "alphabetic", "lineBreak": "\n", "lineHeight": 27.5, "fontSize": 18, "color": "#dc2b2f"},
 "encoding": {"x": {"datum": 1.56846, "axis": null}, "y": {"datum": 170.93, "axis": null}, "text": {"field": "info"}}}
]
},
{
"width": 466, "height": 108,
"resolve": {"axis": {"x": "independent", "y": "independent"}},
"layer": [
{"data": {"name": "tr"}, "transform": [{"filter": "datum.p=='R3' && datum.s!='k'"}],
 "mark": {"type": "line", "color": "#c4352e", "strokeWidth": 1.5},
 "encoding": {
  "x": {"field": "t", "type": "quantitative", "scale": {"domain": [1.39565, 1.5308], "nice": false, "zero": false},
   "axis": {"orient": "bottom", "values": [1.4,1.425,1.45,1.475,1.5,1.525], "labels": true, "format": ".3f", "labelPadding": 5, "tickSize": 11, "title": "min", "titleX": 469, "titleY": 1, "titleAlign": "left", "titleBaseline": "middle", "titleAngle": 0}},
  "y": {"field": "y", "type": "quantitative", "scale": {"domain": [-4, 100], "nice": false, "zero": false},
   "axis": {"orient": "left", "values": [0,50,100], "tickSize": 10, "labelExpr": "datum.value==50?'%':datum.label", "labelPadding": 2, "title": null}},
  "detail": {"field": "s"}}},
{"data": {"name": "tr"}, "transform": [{"filter": "datum.p=='R3' && datum.s=='k'"}], "mark": {"type": "area", "color": "#7878ee", "opacity": 1},
 "encoding": {
  "x": {"field": "t", "type": "quantitative", "axis": {"orient": "bottom", "values": [1.4,1.405,1.41,1.415,1.42,1.425,1.43,1.435,1.44,1.445,1.45,1.455,1.46,1.465,1.47,1.475,1.48,1.485,1.49,1.495,1.5,1.505,1.51,1.515,1.52,1.525,1.53], "tickSize": 5.5, "labels": false, "domain": false, "title": null}},
  "y": {"field": "y", "type": "quantitative", "axis": {"orient": "left", "values": [0,10,20,30,40,50,60,70,80,90,100], "tickSize": 6.5, "labels": false, "domain": false, "title": null}},
  "y2": {"field": "b"}}},
{"data": {"name": "tr"}, "transform": [{"filter": "datum.p=='R3' && datum.s=='k'"}], "mark": {"type": "line", "color": "#111111", "strokeWidth": 1},
 "encoding": {"x": {"field": "t", "type": "quantitative", "axis": null}, "y": {"field": "y", "type": "quantitative", "axis": null}}},
{"data": {"name": "tr"}, "transform": [{"filter": "datum.p=='R3' && datum.s=='k'"}], "mark": {"type": "line", "color": "#111111", "strokeWidth": 1},
 "encoding": {"x": {"field": "t", "type": "quantitative", "axis": null}, "y": {"field": "b", "type": "quantitative", "axis": null}}},
{"data": {"name": "mk"}, "transform": [{"filter": "datum.p=='R3'"}], "mark": {"type": "tick", "orient": "vertical", "size": 17, "thickness": 1, "color": "#111111", "yOffset": -3, "opacity": 1},
 "encoding": {"x": {"field": "t", "type": "quantitative", "axis": null}, "y": {"field": "y", "type": "quantitative", "axis": null}}},
{"data": {"name": "tx"}, "transform": [{"filter": "datum.p=='R3'"}], "mark": {"type": "text", "align": "left", "baseline": "alphabetic", "lineBreak": "\n", "lineHeight": 27.5, "fontSize": 17, "color": "#dc2b2f"},
 "encoding": {"x": {"datum": 1.38347, "axis": null}, "y": {"datum": 162.59, "axis": null}, "text": {"field": "hdr"}}},
{"data": {"name": "tx"}, "transform": [{"filter": "datum.p=='R3'"}], "mark": {"type": "text", "align": "right", "baseline": "alphabetic", "lineBreak": "\n", "lineHeight": 27.5, "fontSize": 17, "color": "#dc2b2f"},
 "encoding": {"x": {"datum": 1.54037, "axis": null}, "y": {"datum": 162.59, "axis": null}, "text": {"field": "info"}}}
]
}
],
"config": {
 "view": {"stroke": null},
 "axis": {"grid": false, "domainColor": "#8a8a8a", "domainWidth": 3, "tickColor": "#8a8a8a", "tickWidth": 1.5,
  "labelFont": "Liberation Sans, Arial, sans-serif", "labelFontSize": 19, "labelColor": "#3b3bc9", "labelOverlap": false, "labelFlush": false,
  "titleFont": "Liberation Sans, Arial, sans-serif", "titleFontSize": 19, "titleFontWeight": "normal", "titleColor": "#3535cf"},
 "text": {"font": "Liberation Sans, Arial, sans-serif"}
}
}
